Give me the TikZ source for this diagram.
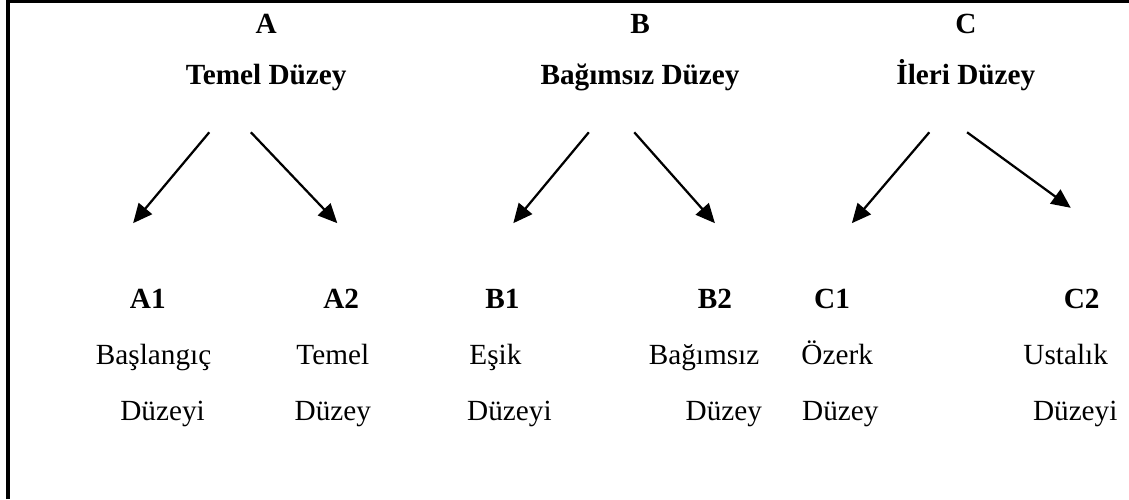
\documentclass[tikz,border=0pt]{standalone}
\usepackage{fontspec}
\setmainfont{Liberation Serif}
\usetikzlibrary{arrows.meta}

\tikzset{
  lvl/.style={anchor=base, inner sep=0pt, font=\fontsize{13}{15}\selectfont\bfseries},
  sub/.style={anchor=base, inner sep=0pt, font=\fontsize{13}{15}\selectfont},
  arr/.style={line width=1pt, -{Triangle[length=0.3cm, width=0.27cm]}}
}

\begin{document}
\begin{tikzpicture}

\useasboundingbox (0, 0) rectangle (17.64, 7.797);

% frame (left and top only)
\draw [line width=1.5pt] (0.125, 0) -- (0.125, 7.77) -- (17.64, 7.77);

% levels
\node[lvl] (A) at (4.16, 7.28) {A};
\node[lvl] (B) at (10.0, 7.28) {B};
\node[lvl] (C) at (15.09, 7.28) {C};
\node[lvl] (Aname) at (4.16, 6.47) {Temel Düzey};
\node[lvl] (Bname) at (10.0, 6.47) {Bağımsız Düzey};
\node[lvl] (Cname) at (15.09, 6.47) {İleri Düzey};

% sub levels
\node[lvl] (A1) at (2.31, 2.97) {A1};
\node[lvl] (A2) at (5.33, 2.97) {A2};
\node[lvl] (B1) at (7.85, 2.97) {B1};
\node[lvl] (B2) at (11.17, 2.97) {B2};
\node[lvl] (C1) at (13.0, 2.97) {C1};
\node[lvl] (C2) at (16.9, 2.97) {C2};

\node[sub] (A1a) at (2.4, 2.1) {Başlangıç};
\node[sub] (A2a) at (5.2, 2.1) {Temel};
\node[sub] (B1a) at (7.74, 2.1) {Eşik};
\node[sub] (B2a) at (11.0, 2.1) {Bağımsız};
\node[sub] (C1a) at (13.08, 2.1) {Özerk};
\node[sub] (C2a) at (16.65, 2.1) {Ustalık};

\node[sub] (A1b) at (2.54, 1.23) {Düzeyi};
\node[sub] (A2b) at (5.2, 1.23) {Düzey};
\node[sub] (B1b) at (7.96, 1.23) {Düzeyi};
\node[sub] (B2b) at (11.31, 1.23) {Düzey};
\node[sub] (C1b) at (13.13, 1.23) {Düzey};
\node[sub] (C2b) at (16.8, 1.23) {Düzeyi};

% arrow ends
\coordinate (As1) at (3.27, 5.73);  \coordinate (Ae1) at (2.08, 4.31);
\coordinate (As2) at (3.92, 5.73);  \coordinate (Ae2) at (5.27, 4.31);
\coordinate (Bs1) at (9.2, 5.73);   \coordinate (Be1) at (8.02, 4.31);
\coordinate (Bs2) at (9.91, 5.73);  \coordinate (Be2) at (11.17, 4.31);
\coordinate (Cs1) at (14.52, 5.73); \coordinate (Ce1) at (13.31, 4.31);
\coordinate (Cs2) at (15.11, 5.73); \coordinate (Ce2) at (16.73, 4.55);

\draw [arr] (As1) -- (Ae1);
\draw [arr] (As2) -- (Ae2);
\draw [arr] (Bs1) -- (Be1);
\draw [arr] (Bs2) -- (Be2);
\draw [arr] (Cs1) -- (Ce1);
\draw [arr] (Cs2) -- (Ce2);

\end{tikzpicture}
\end{document}
